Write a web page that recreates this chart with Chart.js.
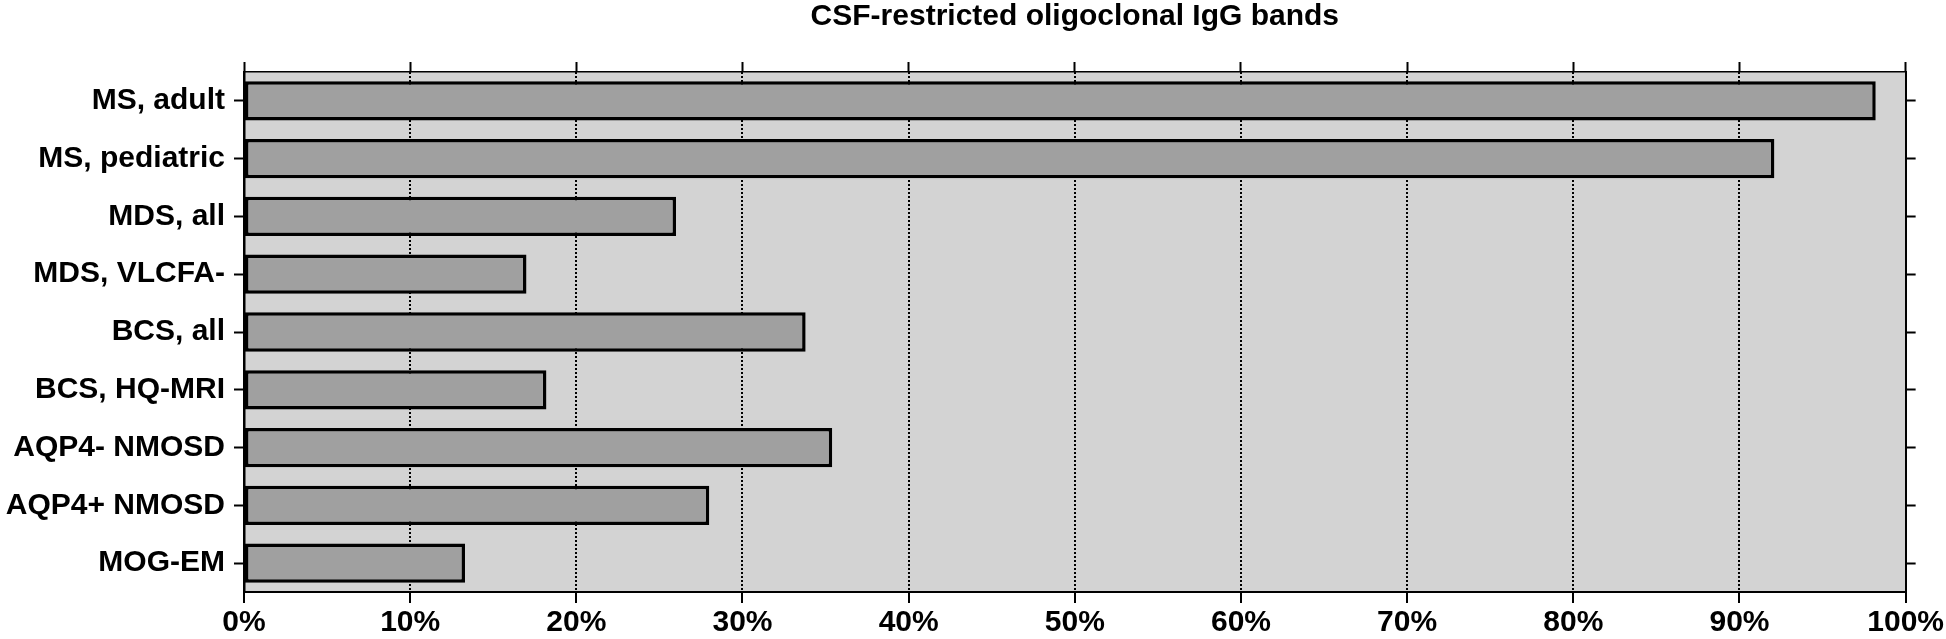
<!DOCTYPE html>
<html>
<head>
<meta charset="utf-8">
<script src="https://cdn.jsdelivr.net/npm/chart.js@4"></script>
<style>
  html, body { margin: 0; padding: 0; background: #ffffff; }
  #wrap { width: 1946px; height: 639px; position: relative; }
</style>
</head>
<body>
<div id="wrap"><canvas id="c"></canvas></div>
<script>
const titleText = 'CSF-restricted oligoclonal IgG bands';
const categories = ['MS, adult', 'MS, pediatric', 'MDS, all', 'MDS, VLCFA-', 'BCS, all', 'BCS, HQ-MRI', 'AQP4- NMOSD', 'AQP4+ NMOSD', 'MOG-EM'];
const percentValues = [98.2, 92.1, 26.0, 17.0, 33.8, 18.2, 35.4, 28.0, 13.3];
const xTickMin = 0;
const xTickMax = 100;
const xTickStep = 10;

const FONT = "'Liberation Sans', Arial, Helvetica, sans-serif";

const plotBg = {
  id: 'plotBg',
  beforeDraw(chart) {
    const a = chart.chartArea;
    const ctx = chart.ctx;
    ctx.save();
    ctx.fillStyle = '#d3d3d3';
    ctx.fillRect(a.left, a.top, a.right - a.left, a.bottom - a.top);
    ctx.restore();
  }
};

new Chart(document.getElementById('c'), {
  type: 'bar',
  data: {
    labels: categories,
    datasets: [{
      data: percentValues,
      xAxisID: 'x',
      yAxisID: 'y',
      backgroundColor: '#a0a0a0',
      borderColor: '#000000',
      borderWidth: 3.5,
      borderSkipped: false,
      barPercentage: 0.68,
      categoryPercentage: 1.0
    }]
  },
  options: {
    indexAxis: 'y',
    responsive: true,
    maintainAspectRatio: false,
    animation: false,
    devicePixelRatio: 1,
    layout: { padding: 0 },
    plugins: {
      legend: { display: false },
      tooltip: { enabled: false },
      title: {
        display: true,
        text: titleText,
        fullSize: false,
        color: '#000000',
        font: { family: FONT, size: 30, weight: 'bold', lineHeight: 1.0 },
        padding: { top: 2, bottom: 28 }
      }
    },
    scales: {
      x: {
        type: 'linear',
        position: 'bottom',
        min: xTickMin,
        max: xTickMax,
        ticks: {
          stepSize: xTickStep,
          color: '#000000',
          padding: 2,
          font: { family: FONT, size: 30, weight: 'bold' },
          callback: (v) => v + '%'
        },
        grid: {
          drawOnChartArea: true,
          drawTicks: true,
          tickLength: 11,
          tickWidth: 2,
          tickColor: '#000000',
          tickBorderDash: [],
          lineWidth: 2,
          borderDash: [2, 2],
          color: (ctx) => {
            const v = ctx.tick ? ctx.tick.value : null;
            return (v === xTickMin || v === xTickMax) ? 'rgba(0,0,0,0)' : '#000000';
          }
        },
        border: { display: true, color: '#000000', width: 2, dash: [2, 2] },
        afterFit: (s) => { s.height = 47; }
      },
      x2: {
        type: 'linear',
        position: 'top',
        min: xTickMin,
        max: xTickMax,
        ticks: { stepSize: xTickStep, display: false },
        grid: {
          drawOnChartArea: false,
          drawTicks: true,
          tickLength: 10,
          tickWidth: 2,
          tickColor: '#000000',
          color: '#000000'
        },
        border: { display: true, color: '#000000', width: 1.5 },
        afterFit: (s) => { s.height = 12; }
      },
      y: {
        type: 'category',
        position: 'left',
        offset: true,
        ticks: {
          color: '#000000',
          padding: 9,
          font: { family: FONT, size: 30, weight: 'bold' }
        },
        grid: {
          offset: false,
          drawOnChartArea: false,
          drawTicks: true,
          tickLength: 10,
          tickWidth: 2,
          tickColor: '#000000',
          color: '#000000'
        },
        border: { display: true, color: '#000000', width: 2.5 },
        afterFit: (s) => { s.width = 244; }
      },
      y2: {
        type: 'category',
        position: 'right',
        offset: true,
        labels: categories,
        ticks: { display: false },
        grid: {
          offset: false,
          drawOnChartArea: false,
          drawTicks: true,
          tickLength: 10,
          tickWidth: 2,
          tickColor: '#000000',
          color: '#000000'
        },
        border: { display: true, color: '#000000', width: 2 },
        afterFit: (s) => { s.width = 40; }
      }
    }
  },
  plugins: [plotBg]
});
</script>
</body>
</html>
